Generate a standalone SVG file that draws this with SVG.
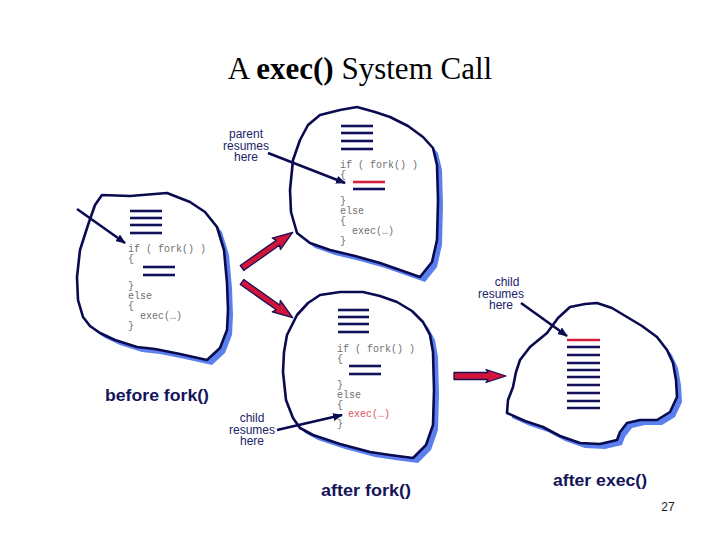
<svg xmlns="http://www.w3.org/2000/svg" width="720" height="540" viewBox="0 0 720 540">
<defs>
<marker id="ah" markerWidth="10" markerHeight="8" refX="9" refY="4" orient="auto" markerUnits="userSpaceOnUse">
<path d="M0,0 L10,4 L0,8 Z" fill="#0a0a50"/>
</marker>
<style>
.blob{fill:#fff;stroke:#0a0a50;stroke-width:2.6;stroke-linejoin:round}
.shadow{fill:#5b80ee}
.bar{stroke:#12125a;stroke-width:2.6}
.red{stroke:#d4203a;stroke-width:2.6}
.code{font-family:"Liberation Mono","DejaVu Sans Mono",monospace;font-size:10px;fill:#707070}
.codered{fill:#e05060}
.lbl{font-family:"Liberation Sans",Arial,sans-serif;font-size:12px;fill:#22226a;text-anchor:middle}
.big{font-family:"Liberation Sans",Arial,sans-serif;font-size:16px;font-weight:bold;fill:#14145a}
.ptr{stroke:#0a0a50;stroke-width:2.6;fill:none;marker-end:url(#ah)}
.fat{fill:#d0143c;stroke:#1a1050;stroke-width:1.3;stroke-linejoin:round}
</style>
</defs>
<rect width="720" height="540" fill="#fff"/>
<text x="360" y="79" text-anchor="middle" font-family="Liberation Serif,'Times New Roman',serif" font-size="31" fill="#000">A <tspan font-weight="bold">exec()</tspan> System Call</text>

<g id="before">
<path class="shadow" transform="translate(5,5)" d="M102,195 L130,196 L167,193 L190,202 L205,212 L217,227 L224,250 L227,283 L228,310 L227,330 L220,348 L207,360 L180,354 L155,349 L137,347 L115,340 L100,333 L90,326 L83,317 L78,300 L77,277 L80,250 L88,225 L95,205 Z"/>
<path class="blob" d="M102,195 L130,196 L167,193 L190,202 L205,212 L217,227 L224,250 L227,283 L228,310 L227,330 L220,348 L207,360 L180,354 L155,349 L137,347 L115,340 L100,333 L90,326 L83,317 L78,300 L77,277 L80,250 L88,225 L95,205 Z"/>
<line class="bar" x1="130" y1="211" x2="162" y2="211"/>
<line class="bar" x1="130" y1="218" x2="162" y2="218"/>
<line class="bar" x1="130" y1="225" x2="162" y2="225"/>
<line class="bar" x1="130" y1="233" x2="162" y2="233"/>
<text class="code" x="128" y="252">if ( fork() )</text>
<text class="code" x="128" y="262">{</text>
<line class="bar" x1="143" y1="267" x2="175" y2="267"/>
<line class="bar" x1="143" y1="275" x2="175" y2="275"/>
<text class="code" x="128" y="289">}</text>
<text class="code" x="128" y="299">else</text>
<text class="code" x="128" y="309">{</text>
<text class="code" x="140" y="319">exec(…)</text>
<text class="code" x="128" y="329">}</text>
<text class="big" x="105" y="401" textLength="104" lengthAdjust="spacingAndGlyphs">before fork()</text>
</g>

<g id="parent">
<path class="shadow" transform="translate(5,5)" d="M320,115 L340,110 L357,107 L375,112 L390,117 L408,126 L423,137 L433,148 L437,165 L438,200 L437,240 L432,262 L420,277 L400,270 L380,263 L355,256 L330,250 L310,243 L297,233 L291,212 L290,190 L293,160 L300,140 L308,125 Z"/>
<path class="blob" d="M320,115 L340,110 L357,107 L375,112 L390,117 L408,126 L423,137 L433,148 L437,165 L438,200 L437,240 L432,262 L420,277 L400,270 L380,263 L355,256 L330,250 L310,243 L297,233 L291,212 L290,190 L293,160 L300,140 L308,125 Z"/>
<line class="bar" x1="341" y1="126" x2="373" y2="126"/>
<line class="bar" x1="341" y1="133" x2="373" y2="133"/>
<line class="bar" x1="341" y1="141" x2="373" y2="141"/>
<line class="bar" x1="341" y1="149" x2="373" y2="149"/>
<text class="code" x="340" y="168">if ( fork() )</text>
<text class="code" x="340" y="178">{</text>
<line class="red" x1="353" y1="182" x2="385" y2="182"/>
<line class="bar" x1="353" y1="189" x2="385" y2="189"/>
<text class="code" x="340" y="204">}</text>
<text class="code" x="340" y="214">else</text>
<text class="code" x="340" y="224">{</text>
<text class="code" x="352" y="234">exec(…)</text>
<text class="code" x="340" y="244">}</text>
</g>

<g id="child">
<path class="shadow" transform="translate(5,5)" d="M297,315 L308,303 L320,295 L340,292 L363,292 L380,296 L397,302 L412,311 L423,322 L430,335 L433,352 L434,390 L433,425 L426,445 L413,458 L390,455 L370,452 L340,444 L313,435 L300,428 L293,418 L286,400 L283,372 L284,352 L287,335 Z"/>
<path class="blob" d="M297,315 L308,303 L320,295 L340,292 L363,292 L380,296 L397,302 L412,311 L423,322 L430,335 L433,352 L434,390 L433,425 L426,445 L413,458 L390,455 L370,452 L340,444 L313,435 L300,428 L293,418 L286,400 L283,372 L284,352 L287,335 Z"/>
<line class="bar" x1="338" y1="310" x2="369" y2="310"/>
<line class="bar" x1="338" y1="317" x2="369" y2="317"/>
<line class="bar" x1="338" y1="324" x2="369" y2="324"/>
<line class="bar" x1="338" y1="332" x2="369" y2="332"/>
<text class="code" x="337" y="352">if ( fork() )</text>
<text class="code" x="337" y="362">{</text>
<line class="bar" x1="349" y1="366" x2="381" y2="366"/>
<line class="bar" x1="349" y1="374" x2="381" y2="374"/>
<text class="code" x="337" y="388">}</text>
<text class="code" x="337" y="398">else</text>
<text class="code" x="337" y="408">{</text>
<text class="code codered" x="348" y="417">exec(…)</text>
<text class="code" x="337" y="427">}</text>
<text class="big" x="321" y="496" textLength="90" lengthAdjust="spacingAndGlyphs">after fork()</text>
</g>

<g id="exec">
<path class="shadow" transform="translate(5,5)" d="M547,333 L558,318 L570,307 L585,304 L597,303 L612,308 L627,317 L642,326 L657,337 L667,350 L673,363 L676,380 L677,397 L670,412 L657,420 L640,420 L627,423 L620,432 L617,440 L600,444 L580,443 L560,436 L543,427 L525,421 L507,413 L508,400 L513,387 L516,372 L520,360 L530,347 Z"/>
<path class="blob" d="M547,333 L558,318 L570,307 L585,304 L597,303 L612,308 L627,317 L642,326 L657,337 L667,350 L673,363 L676,380 L677,397 L670,412 L657,420 L640,420 L627,423 L620,432 L617,440 L600,444 L580,443 L560,436 L543,427 L525,421 L507,413 L508,400 L513,387 L516,372 L520,360 L530,347 Z"/>
<line class="red" x1="567" y1="340" x2="600" y2="340"/>
<line class="bar" x1="567" y1="347" x2="600" y2="347"/>
<line class="bar" x1="567" y1="355" x2="600" y2="355"/>
<line class="bar" x1="567" y1="363" x2="600" y2="363"/>
<line class="bar" x1="567" y1="370" x2="600" y2="370"/>
<line class="bar" x1="567" y1="377" x2="600" y2="377"/>
<line class="bar" x1="567" y1="385" x2="600" y2="385"/>
<line class="bar" x1="567" y1="393" x2="600" y2="393"/>
<line class="bar" x1="567" y1="401" x2="600" y2="401"/>
<line class="bar" x1="567" y1="408" x2="600" y2="408"/>
<text class="big" x="553" y="486" textLength="94" lengthAdjust="spacingAndGlyphs">after exec()</text>
</g>

<g id="connectors">
<line class="ptr" x1="77" y1="209" x2="125" y2="243"/>
<line class="ptr" x1="268" y1="153" x2="345" y2="183"/>
<line class="ptr" x1="521" y1="303" x2="567" y2="336"/>
<line class="ptr" x1="277" y1="430" x2="342" y2="415"/>
<polygon class="fat" transform="translate(242,268) rotate(-35.2)" points="0,-3 44,-3 42,-7 62,0 42,7 44,3 0,3"/>
<polygon class="fat" transform="translate(242,282) rotate(35.2)" points="0,-3 44,-3 42,-7 62,0 42,7 44,3 0,3"/>
<polygon class="fat" transform="translate(454,376)" points="0,-3.5 34,-3.5 32,-6.5 52,0 32,6.5 34,3.5 0,3.5"/>
</g>

<g id="labels">
<text class="lbl"><tspan x="246" y="138">parent</tspan><tspan x="246" y="149.5">resumes</tspan><tspan x="246" y="161">here</tspan></text>
<text class="lbl"><tspan x="507" y="286">child</tspan><tspan x="501" y="297.5">resumes</tspan><tspan x="501" y="309">here</tspan></text>
<text class="lbl"><tspan x="252" y="422">child</tspan><tspan x="252" y="433.5">resumes</tspan><tspan x="252" y="445">here</tspan></text>
<text x="668" y="511" font-family="Liberation Sans,Arial,sans-serif" font-size="12" fill="#222" text-anchor="middle">27</text>
</g>
</svg>
